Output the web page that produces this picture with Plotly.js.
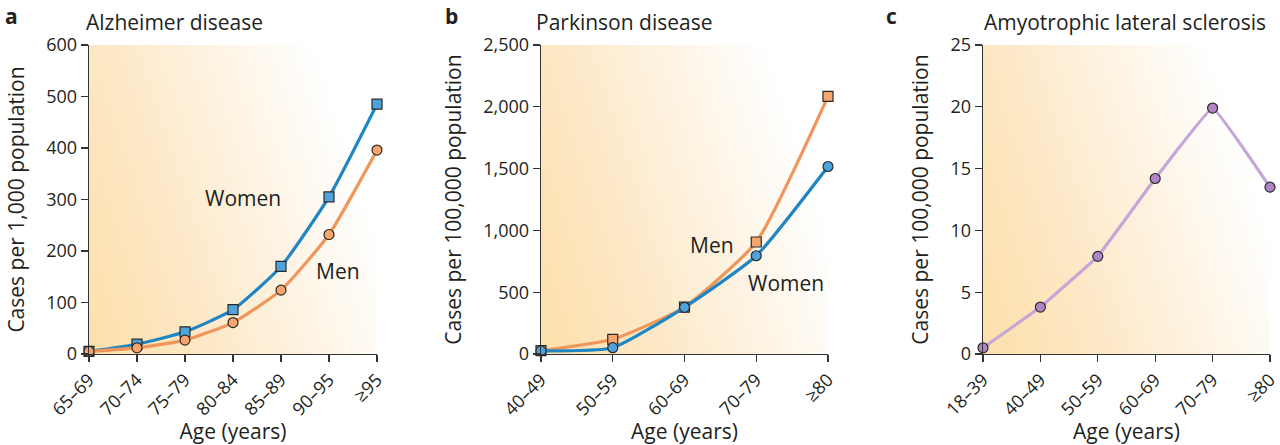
<!DOCTYPE html>
<html><head><meta charset="utf-8">
<script src="https://cdn.plot.ly/plotly-3.0.1.min.js"></script>
<style>html,body{margin:0;padding:0;background:#fff}#chart{width:1280px;height:445px}</style>
</head><body><div id="chart"></div>
<script>
// ---- data ----
const adAges = ["65–69","70–74","75–79","80–84","85–89","90–95","≥95"];
const adWomen = [5, 19, 43, 86, 170, 305, 485];
const adMen = [5, 12, 27, 61, 124, 232, 396];
const adYTicks = [0,100,200,300,400,500,600];

const pdAges = ["40–49","50–59","60–69","70–79","≥80"];
const pdMen = [27, 119, 380, 906, 2085];
const pdWomen = [25, 51, 378, 795, 1517];
const pdYTicks = [0,500,1000,1500,2000,2500];

const alsAges = ["18–39","40–49","50–59","60–69","70–79","≥80"];
const alsAll = [0.5, 3.8, 7.9, 14.2, 19.9, 13.5];
const alsYTicks = [0,5,10,15,20,25];

// ---- styles ----
const FONT = '"Open Sans", "Noto Sans", sans-serif';
const TXT = '#231f20';
const BLUE_L = '#1f86c3', BLUE_M = '#4ea3dc';
const ORG_L = '#f0965a', ORG_M = '#f6a66c';
const PUR_L = '#c5a6d6', PUR_M = '#b284c6';
const EDGE = '#2a2a2a';
const TICK = 18, TITLE = 21;

const yTop = 1 - 45/445, yBot = 1 - 354/445;
const doms = [[89/1280, 377/1280],[541/1280, 828/1280],[983/1280, 1270/1280]];

function grad() {
  const c = document.createElement('canvas');
  c.width = 300; c.height = 320;
  const g = c.getContext('2d');
  const lg = g.createLinearGradient(0, 300, 300, 200);
  lg.addColorStop(0, '#fde0ab');
  lg.addColorStop(0.4, '#fdeacb');
  lg.addColorStop(1, '#ffffff');
  g.fillStyle = lg; g.fillRect(0,0,300,320);
  return c.toDataURL('image/png');
}
const bg = grad();

function line(x, y, xa, ya, lc, mc, sym, sm) {
  return {x, y, xaxis: xa, yaxis: ya, type: 'scatter', mode: 'lines+markers',
    cliponaxis: false, hoverinfo: 'skip',
    line: {color: lc, width: 3.2, shape: sm > 0 ? 'spline' : 'linear', smoothing: sm || 0},
    marker: {symbol: sym, size: 10, color: mc, line: {color: EDGE, width: 1.2}}};
}

const data = [
  line(adAges, adWomen, 'x', 'y', BLUE_L, BLUE_M, 'square', 0.5),
  line(adAges, adMen, 'x', 'y', ORG_L, ORG_M, 'circle', 0.5),
  line(pdAges, pdMen, 'x2', 'y2', ORG_L, ORG_M, 'square', 0.5),
  line(pdAges, pdWomen, 'x2', 'y2', BLUE_L, BLUE_M, 'circle', 0.5),
  line(alsAges, alsAll, 'x3', 'y3', PUR_L, PUR_M, 'circle', 0.2)
];

function xax(dom, cats, anchor) {
  return {domain: dom, anchor, type: 'category', range: [0, cats.length-1],
    showline: true, linecolor: '#333', linewidth: 1.3, ticks: 'outside', ticklen: 7,
    tickcolor: '#333', tickwidth: 1.3, tickangle: -45, showgrid: false, zeroline: false,
    tickfont: {family: FONT, size: TICK, color: TXT},
    title: {text: 'Age (years)', font: {family: FONT, size: TITLE, color: TXT}, standoff: 2},
    fixedrange: true};
}
function yax(anchor, max, vals, title) {
  return {domain: [yBot, yTop], anchor, range: [0, max], tickvals: vals, tickformat: ',',
    showline: true, linecolor: '#333', linewidth: 1.3, ticks: 'outside', ticklen: 7,
    tickcolor: '#333', tickwidth: 1.3, showgrid: false, zeroline: false,
    tickfont: {family: FONT, size: TICK, color: TXT},
    title: {text: title, font: {family: FONT, size: TITLE, color: TXT}, standoff: 16},
    fixedrange: true};
}

const ann = (text, x, y, xref, yref, size, bold, xanchor) => ({text: bold ? '<b>'+text+'</b>' : text,
  x, y, xref, yref, showarrow: false, xanchor: xanchor || 'center', yanchor: 'middle',
  font: {family: FONT, size, color: TXT}});

const layout = {
  width: 1280, height: 445, margin: {l: 0, r: 0, t: 0, b: 0},
  paper_bgcolor: '#fff', plot_bgcolor: 'rgba(0,0,0,0)', showlegend: false,
  xaxis: xax(doms[0], adAges, 'y'),
  yaxis: yax('x', 600, adYTicks, 'Cases per 1,000 population'),
  xaxis2: xax(doms[1], pdAges, 'y2'),
  yaxis2: yax('x2', 2500, pdYTicks, 'Cases per 100,000 population'),
  xaxis3: xax(doms[2], alsAges, 'y3'),
  yaxis3: yax('x3', 25, alsYTicks, 'Cases per 100,000 population'),
  images: doms.map(d => ({source: bg, xref: 'paper', yref: 'paper', x: d[0], y: yTop,
    sizex: d[1]-d[0], sizey: yTop-yBot, sizing: 'stretch', layer: 'below',
    xanchor: 'left', yanchor: 'top'})),
  annotations: [
    ann('a', 3/1280, 1-16/445, 'paper', 'paper', 21, true, 'left'),
    ann('b', 443/1280, 1-16/445, 'paper', 'paper', 21, true, 'left'),
    ann('c', 884/1280, 1-16/445, 'paper', 'paper', 21, true, 'left'),
    ann('Alzheimer disease', 84/1280, 1-22/445, 'paper', 'paper', TITLE, false, 'left'),
    ann('Parkinson disease', 534/1280, 1-22/445, 'paper', 'paper', TITLE, false, 'left'),
    ann('Amyotrophic lateral sclerosis', 982/1280, 1-22/445, 'paper', 'paper', TITLE, false, 'left'),
    ann('Women', 3.21, 303, 'x', 'y', TITLE, false),
    ann('Men', 5.19, 161, 'x', 'y', TITLE, false),
    ann('Men', 2.38, 882, 'x2', 'y2', TITLE, false),
    ann('Women', 3.41, 574, 'x2', 'y2', TITLE, false)
  ]
};

Plotly.newPlot('chart', data, layout, {displayModeBar: false, staticPlot: true});
</script></body></html>
